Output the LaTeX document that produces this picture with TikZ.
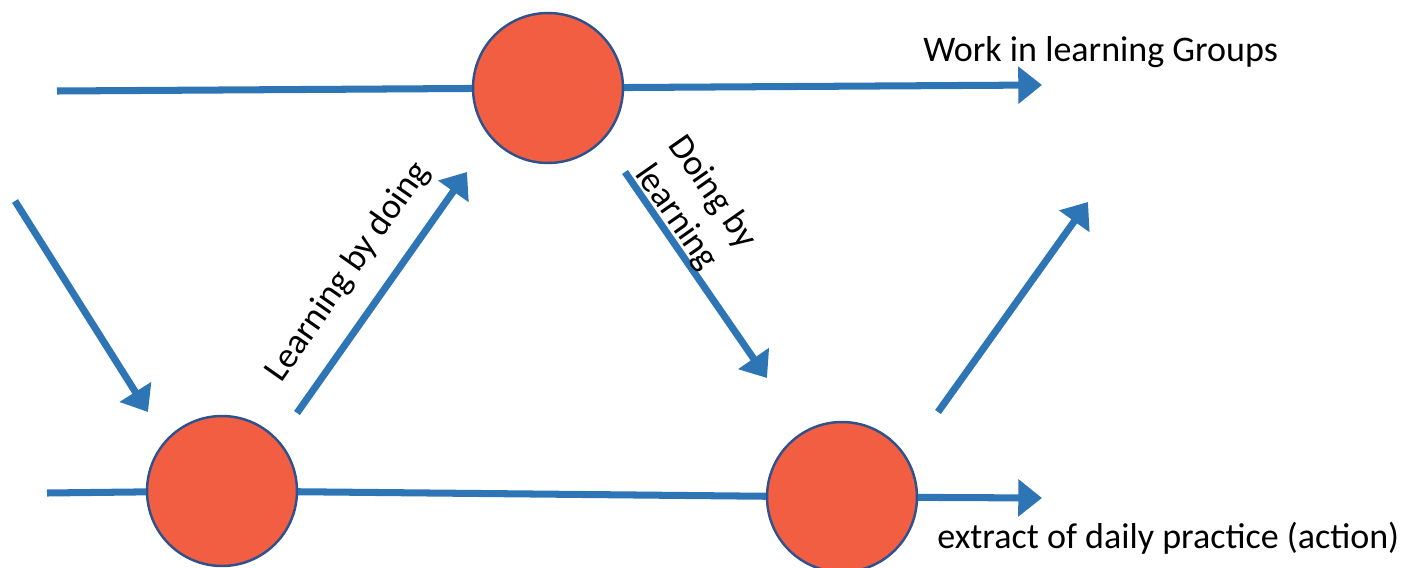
\documentclass[tikz,border=0pt]{standalone}
\usepackage{fontspec}
\setmainfont{Carlito}
\usetikzlibrary{positioning,arrows.meta}
\definecolor{flow}{HTML}{2E75B6}
\definecolor{dot}{HTML}{F15E42}
\definecolor{rim}{HTML}{2F528F}
\tikzset{stage/.style={circle,draw=rim,line width=1.4pt,fill=dot,minimum size=3cm,inner sep=0pt},flowline/.style={draw=flow,line width=4pt},flowarrow/.style={flowline,-{Triangle[length=13.5pt,width=20.5pt]}},caption/.style={font=\fontsize{20.5}{25}\selectfont,inner sep=0pt}}

\begin{document}
\begin{tikzpicture}[x=0.02cm,y=-0.02cm]
\useasboundingbox (0,0) rectangle (1411,568);
\node[stage] (top) at (548,88) {};
\node[stage] (left) at (222,491) {};
\node[stage] (right) at (842,497) {};
\coordinate (topin) at (57,91);
\coordinate (topout) at (1042,85);
\coordinate (botin) at (47,493);
\coordinate (botout) at (1042,498);
\coordinate (d1s) at (15,201);
\coordinate (d1e) at (148,412);
\coordinate (d2s) at (297,413);
\coordinate (d2e) at (467,172);
\coordinate (d3s) at (625,172);
\coordinate (d3e) at (767,378);
\coordinate (d4s) at (938,412);
\coordinate (d4e) at (1088,202);
\draw[flowline] (topin)--(top);
\draw[flowarrow] (top)--(topout);
\draw[flowline] (botin)--(left);
\draw[flowline] (left)--(right);
\draw[flowarrow] (right)--(botout);
\foreach \s/\e in {d1s/d1e,d2s/d2e,d3s/d3e,d4s/d4e}\draw[flowarrow] (\s)--(\e);
\node[caption,anchor=base west] (wlg) at (923,61) {Work in learning Groups};
\node[caption,anchor=base west] (edp) at (937,548) {extract of daily practice (action)};
\node[caption,rotate=55] (lbd) at (348,272) {Learning by doing};
\node[caption,rotate=-55,align=center] (dbl) at (694,205) {Doing by\\learning};
\end{tikzpicture}
\end{document}
